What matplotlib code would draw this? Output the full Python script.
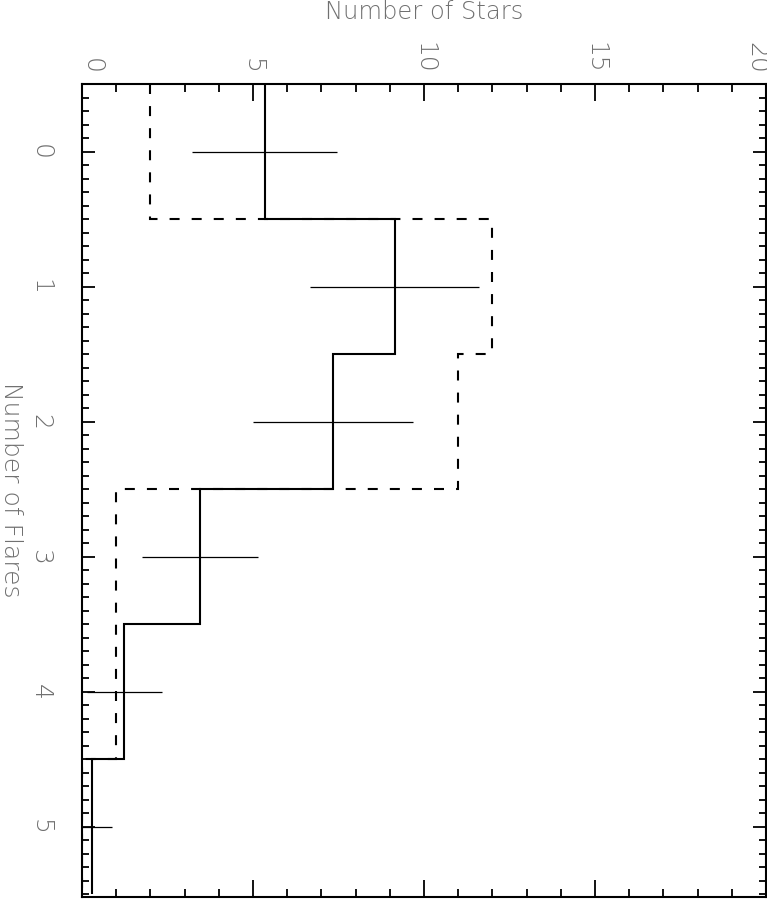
import matplotlib
matplotlib.use("Agg")
import matplotlib.pyplot as plt
import matplotlib.transforms as mtransforms
from matplotlib.ticker import MultipleLocator

# Data
flares = [0, 1, 2, 3, 4, 5]
edges = [-0.5, 0.5, 1.5, 2.5, 3.5, 4.5, 5.5]
observed = [5.35, 9.15, 7.34, 3.45, 1.24, 0.29]
observed_err = [2.12, 2.47, 2.33, 1.70, 1.09, 0.60]
comparison = [2.0, 12.0, 11.0, 1.0, 1.0, 0.0]
star_ticks = [0, 5, 10, 15, 20]
star_ticklabels = ["0", "5", "10", "15", "20"]
flare_ticks = [0, 1, 2, 3, 4, 5]
flare_ticklabels = ["0", "1", "2", "3", "4", "5"]

plt.rcParams['font.family'] = ['DejaVu Sans']
TXT = '#707070'

fig = plt.figure(figsize=(7.67, 8.99), dpi=100)
ax = fig.add_axes([82/767, 2/899, 684/767, (897-84)/899])

ax.stairs(observed, edges, orientation='horizontal', baseline=None,
          color='black', linewidth=1.5)
ax.stairs(comparison, edges, orientation='horizontal', baseline=None,
          color='black', linewidth=1.5, linestyle=(0, (4.8, 5.8)))
ax.errorbar(observed, flares, xerr=observed_err, fmt='none',
            ecolor='black', elinewidth=0.9, capsize=0)

ax.set_xlim(0, 20)
ax.set_ylim(5.52, -0.5)

for s in ax.spines.values():
    s.set_linewidth(1.5)

ax.xaxis.set_minor_locator(MultipleLocator(1))
ax.yaxis.set_minor_locator(MultipleLocator(0.1))
ax.set_xticks(star_ticks)
ax.set_xticklabels([])
ax.set_yticks(flare_ticks)
ax.set_yticklabels(flare_ticklabels)

ax.tick_params(axis='x', which='both', direction='in', top=True, bottom=True,
               labeltop=False, labelbottom=False, width=1.3)
ax.tick_params(axis='x', which='major', length=12)
ax.tick_params(axis='x', which='minor', length=5.5)
ax.tick_params(axis='y', which='both', direction='in', left=True, right=True,
               labelleft=True, labelright=False, width=1.3)
ax.tick_params(axis='y', which='major', length=9.5, pad=30,
               labelsize=18, labelcolor=TXT, labelrotation=-90)
ax.tick_params(axis='y', which='minor', length=5)

for lab in ax.get_yticklabels():
    lab.set_fontweight('light')
    lab.set_va('center')
    lab.set_ha('center')

# top tick labels, drawn as text (end labels nudged inward as in the reference)
blend = mtransforms.blended_transform_factory(ax.transData, ax.transAxes)
nudges = {0: 10, 20: -10}
for v, s in zip(star_ticks, star_ticklabels):
    dx = nudges.get(v, 0)
    tr = blend + mtransforms.ScaledTranslation(dx / 100, 10 / 100, fig.dpi_scale_trans)
    ax.text(v, 1.0, s, transform=tr, rotation=-90, ha='center', va='bottom',
            fontsize=18, color=TXT, fontweight='light', clip_on=False)

fig.text(424/767, 1 - 0/899, "Number of Stars", ha='center', va='top',
         fontsize=17.5, color=TXT, fontweight='light')
fig.text(11/767, 1 - 490/899, "Number of Flares", ha='center', va='center',
         fontsize=18, color=TXT, fontweight='light', rotation=-90)

fig.savefig("out.png", dpi=100)
